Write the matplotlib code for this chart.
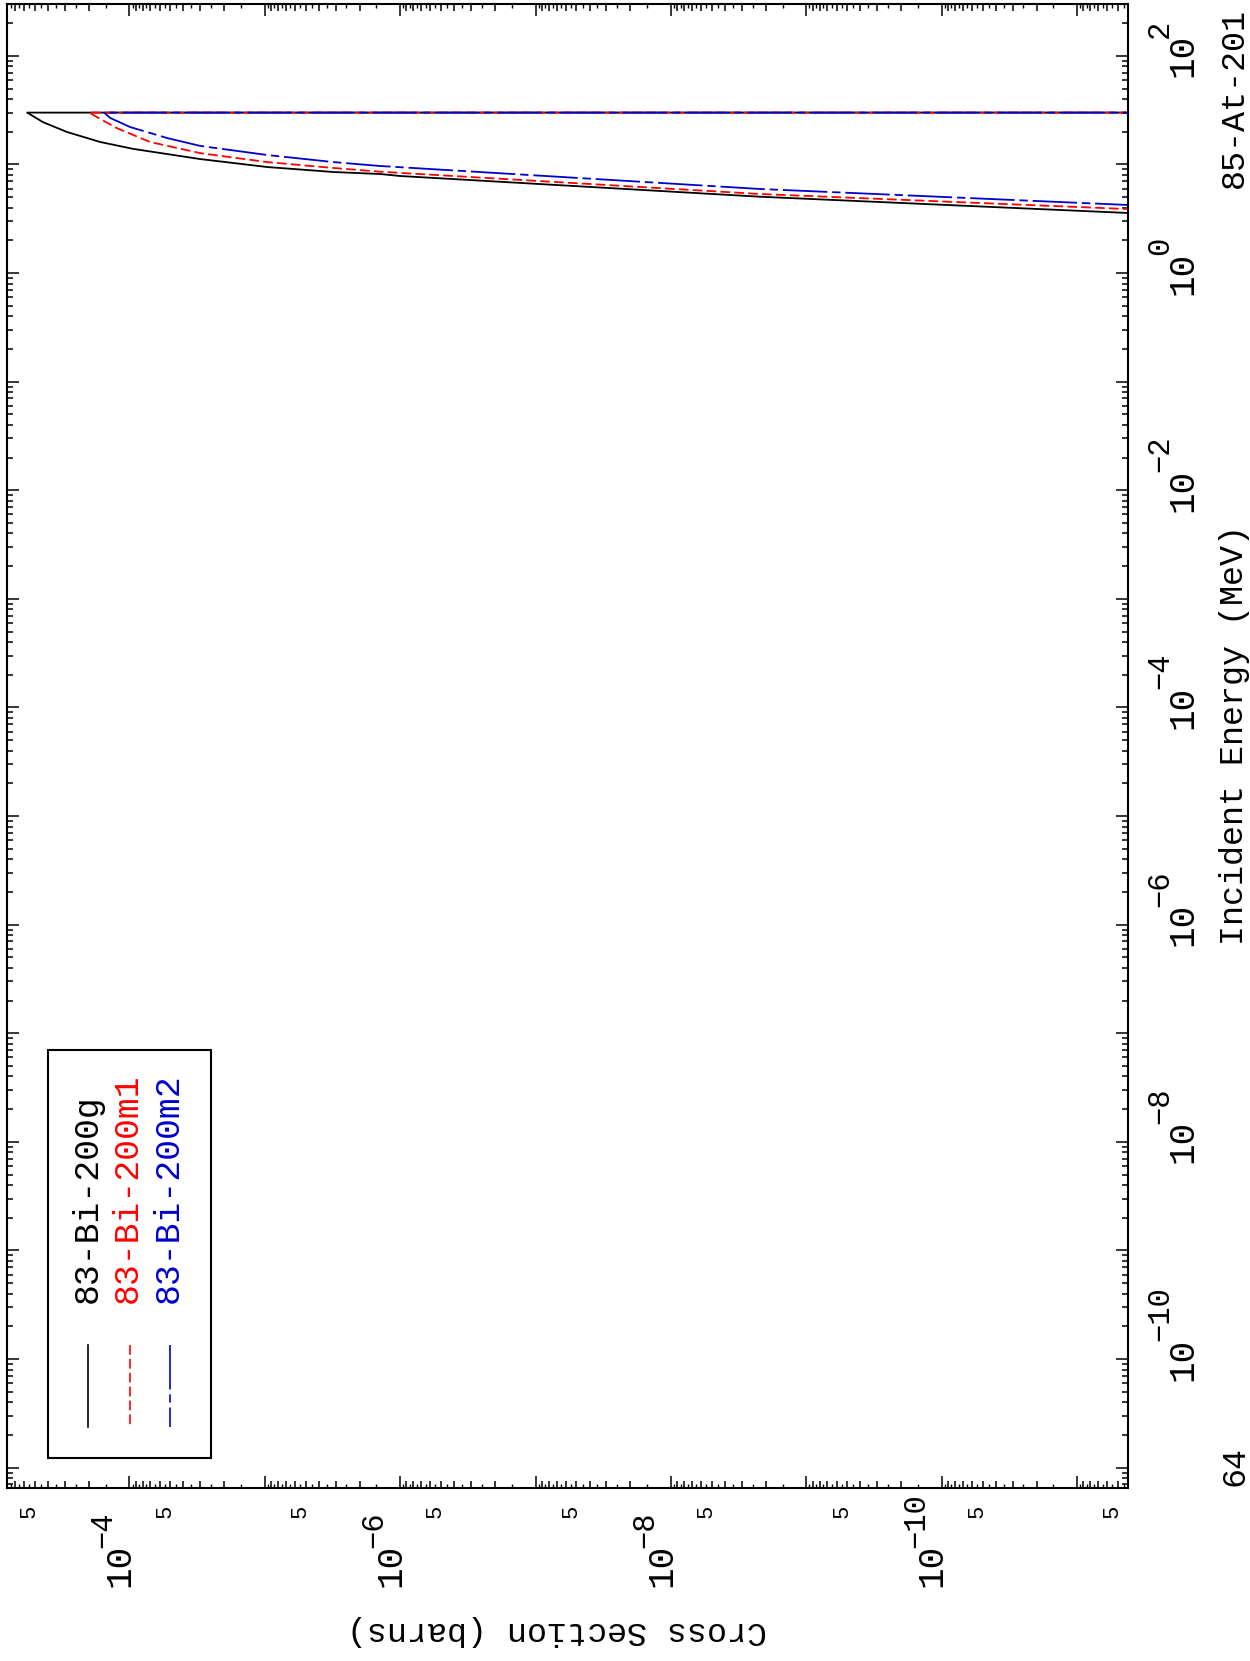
import matplotlib
matplotlib.use("Agg")
import matplotlib.pyplot as plt
from matplotlib.patches import Rectangle
from matplotlib.lines import Line2D
from matplotlib.ticker import FixedLocator, NullFormatter
from matplotlib.transforms import blended_transform_factory, offset_copy

# ===================== data =====================
# 85-At-201 : production of 83-Bi-200 (g, m1, m2), energies in MeV, cross sections in barns
# last point of each series is the drop to ~zero above 30 MeV
energy_g = [3.34, 3.57, 5.04, 7.82, 8.16, 8.51, 9.46, 11.2, 13.9, 16.1, 19.9, 24.5, 30.0, 30.0]
xs_g     = [1.2e-12, 4.2e-12, 2.2e-9, 1.0e-6, 1.41e-6, 3.1e-6, 9.6e-6, 3.0e-5, 9.4e-5, 1.65e-4, 2.9e-4, 4.35e-4, 5.7e-4, 1e-14]

energy_m1 = [3.65, 3.88, 5.34, 8.57, 9.27, 10.5, 12.7, 16.1, 21.6, 27.3, 30.0, 30.0]
xs_m1     = [1.2e-12, 4.2e-12, 2.2e-9, 1.41e-6, 3.1e-6, 9.6e-6, 3.0e-5, 7.06e-5, 1.24e-4, 1.74e-4, 1.99e-4, 1e-14]

energy_m2 = [3.96, 4.23, 5.94, 9.67, 10.5, 12.2, 14.8, 17.5, 22.1, 26.8, 30.0, 30.0]
xs_m2     = [1.2e-12, 4.2e-12, 2.2e-9, 1.41e-6, 3.1e-6, 9.6e-6, 3.0e-5, 5.28e-5, 9.9e-5, 1.39e-4, 1.54e-4, 1e-14]

series_names = ["83-Bi-200g", "83-Bi-200m1", "83-Bi-200m2"]
xs_label_exps = [-4, -6, -8, -10]          # labelled cross-section decades
e_label_exps = [2, 0, -2, -4, -6, -8, -10]  # labelled energy decades
# ==================================================

W, H = 1250, 1661
MONO = "Liberation Mono"
plt.rcParams["lines.scale_dashes"] = False

RED_DASH = (0, (7, 3))
BLUE_DASHDOT = (0, (32, 3.5, 6, 3.5))

def fx(px):
    return px / W

def fy(py):
    return 1 - py / H

def sup(n):
    return str(n).replace("-", "\u2212")

fig = plt.figure(figsize=(W / 100, H / 100), dpi=100)
L, R, T, B = 7, 1128, 4, 1488
ax = fig.add_axes([fx(L), fy(B), (R - L) / W, (B - T) / H])

# page is turned: cross section runs along the bottom (growing to the left),
# incident energy runs up the right side
ax.set_xscale("log")
ax.set_yscale("log")
ax.set_xlim(8.03e-4, 4.22e-12)
ax.set_ylim(6.49e-12, 300)

ax.plot(xs_g, energy_g, color="black", lw=1.3)
ax.plot(xs_m1, energy_m1, color="red", lw=1.3, ls=RED_DASH)
ax.plot(xs_m2, energy_m2, color="#0000cc", lw=1.3, ls=BLUE_DASHDOT)

# ---- ticks ----
x_major = [10.0 ** -k for k in range(3, 12)]
x_minor = [m * 10.0 ** -k for k in range(3, 13) for m in range(2, 10)]
x_half = [(m + 0.5) * 10.0 ** -k for k in range(3, 13) for m in range(1, 10)]
y_major = [10.0 ** k for k in range(-11, 3)]
y_minor = [m * 10.0 ** k for k in range(-12, 3) for m in range(2, 10)]

ax.xaxis.set_major_locator(FixedLocator(x_major))
ax.xaxis.set_minor_locator(FixedLocator(x_minor))
ax.yaxis.set_major_locator(FixedLocator(y_major))
ax.yaxis.set_minor_locator(FixedLocator(y_minor))
for a in (ax.xaxis, ax.yaxis):
    a.set_major_formatter(NullFormatter())
    a.set_minor_formatter(NullFormatter())

ax.tick_params(which="both", direction="in", top=True, right=True, bottom=True, left=True,
               width=1.1, labelbottom=False, labelleft=False)
ax.tick_params(which="major", length=8.6)
ax.tick_params(axis="x", which="minor", length=5.0)
ax.tick_params(axis="y", which="minor", length=4.5)
for s in ax.spines.values():
    s.set_linewidth(1.5)

# tiny half-step ticks on the cross-section axis
hl = 4 / (B - T)
xt = ax.get_xaxis_transform()
ax.vlines(x_half, 0, hl, transform=xt, color="black", lw=1.0, clip_on=True)
ax.vlines(x_half, 1 - hl, 1, transform=xt, color="black", lw=1.0, clip_on=True)

# ---- tick labels, drawn by hand in the turned layout ----
bt = blended_transform_factory(ax.transData, fig.transFigure)
rt = blended_transform_factory(fig.transFigure, ax.transData)

for k in xs_label_exps:
    ax.text(10.0 ** k, fy(1565), "10", transform=bt, rotation=90, rotation_mode="anchor",
            ha="center", va="baseline", fontsize=26, family=MONO)
    ax.text(10.0 ** k, fy(1548), sup(k), transform=offset_copy(bt, fig=fig, x=-18, y=0, units="dots"),
            rotation=90, rotation_mode="anchor", ha="left", va="baseline", fontsize=22, family=MONO)

for k in range(4, 13):
    ax.text(5 * 10.0 ** -k, fy(1511), "5", transform=bt, rotation=90, rotation_mode="anchor",
            ha="center", va="baseline", fontsize=16, family=MONO)

for k in e_label_exps:
    ax.text(fx(1192), 10.0 ** k, "10", transform=rt, rotation=90, rotation_mode="anchor",
            ha="center", va="baseline", fontsize=26, family=MONO)
    ax.text(fx(1168), 10.0 ** k, sup(k), transform=offset_copy(rt, fig=fig, x=0, y=18, units="dots"),
            rotation=90, rotation_mode="anchor", ha="left", va="baseline", fontsize=22, family=MONO)

# ---- axis titles ----
fig.text(fx(1243), fy(735), "Incident Energy (MeV)", rotation=90, rotation_mode="anchor",
         ha="center", va="baseline", fontsize=24, family=MONO)
fig.text(fx(1243), fy(98), "85-At-201", rotation=90, rotation_mode="anchor",
         ha="center", va="baseline", fontsize=24, family=MONO)
fig.text(fx(1243), fy(1486), "64", rotation=90, rotation_mode="anchor",
         ha="left", va="baseline", fontsize=24, family=MONO)
fig.text(fx(557), fy(1622), "Cross Section (barns)", rotation=180, rotation_mode="anchor",
         ha="center", va="baseline", fontsize=24, family=MONO)

# ---- legend box ----
fig.add_artist(Rectangle((fx(48), fy(1458)), (211 - 48) / W, (1458 - 1050) / H,
                         transform=fig.transFigure, fill=False, lw=1.5, ec="black"))
leg_styles = [("black", "-", 88, 97), ("red", RED_DASH, 130, 137), ("#0000cc", BLUE_DASHDOT, 170, 178)]
for name, (col, ls, lx, tx) in zip(series_names, leg_styles):
    fig.add_artist(Line2D([fx(lx), fx(lx)], [fy(1345), fy(1427)], transform=fig.transFigure,
                          color=col, ls=ls, lw=1.2))
    fig.text(fx(tx), fy(1303), name, rotation=90, rotation_mode="anchor",
             ha="left", va="baseline", fontsize=25, family=MONO, color=col)

fig.savefig("out.png", dpi=100)
plt.close(fig)
